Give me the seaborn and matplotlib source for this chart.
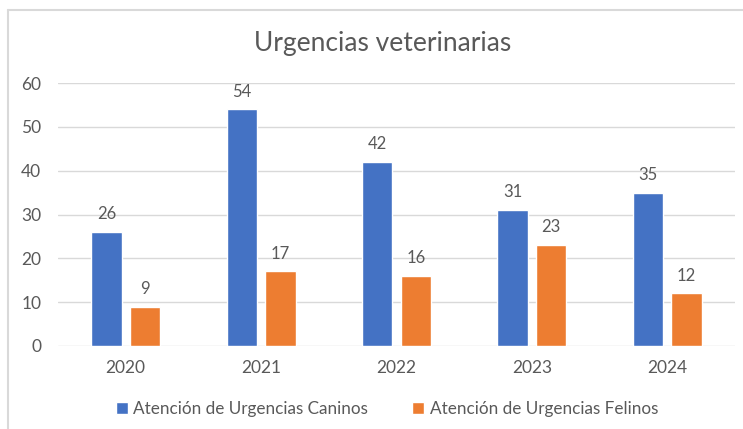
import pandas as pd
import seaborn as sns
import matplotlib.pyplot as plt
from matplotlib.lines import Line2D

years = ["2020", "2021", "2022", "2023", "2024"]
caninos = [26, 54, 42, 31, 35]
felinos = [9, 17, 16, 23, 12]
series = ["Atención de Urgencias Caninos", "Atención de Urgencias Felinos"]

df = pd.DataFrame({
    "Año": years * 2,
    "Atenciones": caninos + felinos,
    "Serie": [series[0]] * len(years) + [series[1]] * len(years),
})

sns.set_style("white")
plt.rcParams["font.family"] = ["Lato", "DejaVu Sans"]
gris = "#595959"

fig = plt.figure(figsize=(7.43, 4.29), dpi=100)
ax = fig.add_axes([58 / 743, 1 - 346 / 429, 677 / 743, 263 / 429])

sns.barplot(data=df, x="Año", y="Atenciones", hue="Serie",
            palette=["#4472C4", "#ED7D31"], width=0.568, gap=0.21,
            ax=ax, saturation=1)

for c in ax.containers:
    ax.bar_label(c, padding=7, fontsize=12, color=gris)

ax.set_ylim(0, 60)
ax.set_yticks(range(0, 61, 10))
ax.set_xlim(-0.5, 4.5)
ax.grid(axis="y", color="#D9D9D9", linewidth=1)
ax.set_axisbelow(True)
for s in ax.spines.values():
    s.set_visible(False)
ax.tick_params(axis="both", length=0, labelsize=12.5, labelcolor=gris, pad=10)
ax.tick_params(axis="y", pad=12)
ax.set_xlabel("")
ax.set_ylabel("")

fig.text(383 / 743, 1 - 44 / 429, "Urgencias veterinarias", fontsize=19,
         color=gris, ha="center", va="center")

ax.legend(loc="center", bbox_to_anchor=(387 / 743, (429 - 409) / 429),
          bbox_transform=fig.transFigure, ncol=2, frameon=False,
          fontsize=12.3, labelcolor=gris, handlelength=0.7, handleheight=0.7,
          handletextpad=0.3, columnspacing=2.6)

# borde del gráfico
fig.add_artist(Line2D([8 / 743, 1], [1 - 10 / 429, 1 - 10 / 429],
                      transform=fig.transFigure, color="#D9D9D9", linewidth=1.5))
fig.add_artist(Line2D([8 / 743, 8 / 743], [0, 1 - 10 / 429],
                      transform=fig.transFigure, color="#D9D9D9", linewidth=1.5))

fig.savefig("out.png", dpi=100)
